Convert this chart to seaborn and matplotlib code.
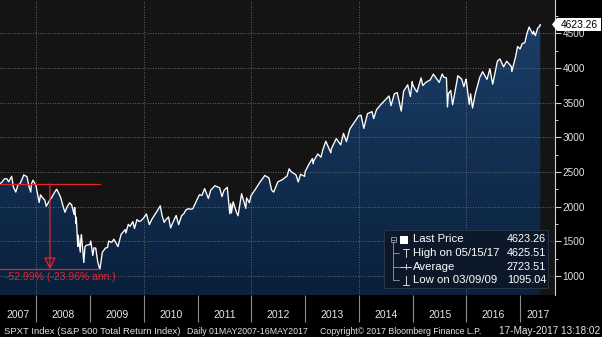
import numpy as np
import pandas as pd
import matplotlib
matplotlib.use("Agg")
import matplotlib.pyplot as plt
import matplotlib.dates as mdates
from matplotlib.colors import LinearSegmentedColormap
from matplotlib.patches import Polygon, Rectangle
from matplotlib.lines import Line2D
from matplotlib.transforms import Affine2D
import seaborn as sns

# ---------------- data ----------------
dates = [
    "2007-05-01", "2007-05-15", "2007-05-31", "2007-06-15", "2007-06-29", "2007-07-19", "2007-07-31",
    "2007-08-16", "2007-08-31", "2007-09-14", "2007-09-28", "2007-10-09", "2007-10-31", "2007-11-15",
    "2007-11-26", "2007-11-30", "2007-12-11", "2007-12-31",
    "2008-01-22", "2008-01-31", "2008-02-15", "2008-02-29", "2008-03-10", "2008-03-31", "2008-04-15",
    "2008-04-30", "2008-05-19", "2008-05-30", "2008-06-16", "2008-06-30", "2008-07-15", "2008-07-31",
    "2008-08-15", "2008-08-29", "2008-09-15", "2008-09-19", "2008-09-29", "2008-09-30", "2008-10-10",
    "2008-10-13", "2008-10-27", "2008-10-31", "2008-11-04", "2008-11-20", "2008-11-28", "2008-12-08",
    "2008-12-31",
    "2009-01-06", "2009-01-20", "2009-01-28", "2009-02-09", "2009-02-23", "2009-03-09", "2009-03-26",
    "2009-04-17", "2009-04-30", "2009-05-08", "2009-05-29", "2009-06-12", "2009-07-10", "2009-07-31",
    "2009-08-28", "2009-09-02", "2009-09-18", "2009-09-30", "2009-10-19", "2009-10-30", "2009-11-16",
    "2009-11-30", "2009-12-15", "2009-12-31",
    "2010-01-19", "2010-02-08", "2010-02-26", "2010-03-31", "2010-04-23", "2010-05-06", "2010-05-20",
    "2010-05-28", "2010-06-18", "2010-07-02", "2010-07-30", "2010-08-09", "2010-08-26", "2010-09-15",
    "2010-09-30", "2010-10-15", "2010-10-29", "2010-11-16", "2010-11-30", "2010-12-31",
    "2011-01-14", "2011-01-31", "2011-02-18", "2011-03-16", "2011-03-31", "2011-04-29", "2011-05-31",
    "2011-06-16", "2011-06-30", "2011-07-22", "2011-08-08", "2011-08-15", "2011-08-19", "2011-08-31",
    "2011-09-22", "2011-10-03", "2011-10-27", "2011-11-25", "2011-11-30", "2011-12-19", "2011-12-30",
    "2012-01-31", "2012-02-29", "2012-04-02", "2012-04-30", "2012-05-18", "2012-06-01", "2012-06-29",
    "2012-07-31", "2012-08-31", "2012-09-14", "2012-09-28", "2012-10-31", "2012-11-15", "2012-11-30",
    "2012-12-28", "2012-12-31",
    "2013-01-31", "2013-02-19", "2013-02-25", "2013-02-28", "2013-03-28", "2013-04-18", "2013-04-30",
    "2013-05-21", "2013-06-24", "2013-06-28", "2013-07-31", "2013-08-30", "2013-09-18", "2013-10-08",
    "2013-10-31", "2013-11-29", "2013-12-31",
    "2014-01-15", "2014-02-03", "2014-02-28", "2014-03-31", "2014-04-11", "2014-04-30", "2014-05-30",
    "2014-06-30", "2014-07-24", "2014-08-07", "2014-08-29", "2014-09-18", "2014-10-15", "2014-10-31",
    "2014-11-28", "2014-12-16", "2014-12-29", "2014-12-31",
    "2015-01-16", "2015-01-30", "2015-02-27", "2015-03-10", "2015-03-31", "2015-04-30", "2015-05-21",
    "2015-06-30", "2015-07-20", "2015-07-31", "2015-08-18", "2015-08-25", "2015-08-31", "2015-09-16",
    "2015-09-29", "2015-10-30", "2015-11-03", "2015-11-30", "2015-12-14", "2015-12-29", "2015-12-31",
    "2016-01-20", "2016-01-29", "2016-02-11", "2016-02-29", "2016-03-31", "2016-04-20", "2016-05-19",
    "2016-06-08", "2016-06-27", "2016-07-29", "2016-08-15", "2016-09-09", "2016-09-30", "2016-10-31",
    "2016-11-04", "2016-11-30", "2016-12-13", "2016-12-30",
    "2017-01-13", "2017-01-31", "2017-02-15", "2017-03-01", "2017-03-27", "2017-03-31", "2017-04-13",
    "2017-04-28", "2017-05-12", "2017-05-15", "2017-05-16",
]
values = [
    2329.40, 2355, 2400, 2405, 2358, 2437, 2283,
    2210, 2315, 2330, 2398, 2457, 2433, 2280,
    2210, 2327, 2382, 2305,
    2060, 2170, 2125, 2095, 2005, 2085, 2130,
    2186, 2252, 2210, 2132, 2022, 1918, 2003,
    2053, 2030, 1889, 1987, 1752, 1847, 1425,
    1590, 1345, 1537, 1596, 1194, 1423, 1444,
    1452,
    1505, 1296, 1407, 1401, 1198, 1095.04, 1343,
    1405, 1410, 1503, 1486, 1531, 1424, 1600,
    1670, 1620, 1745, 1717, 1784, 1685, 1815,
    1785, 1800, 1836,
    1895, 1741, 1822, 1931, 2012, 1866, 1772,
    1803, 1852, 1694, 1830, 1873, 1740, 1870,
    1898, 1955, 1970, 1963, 1970, 2112,
    2172, 2162, 2260, 2117, 2235, 2302, 2272,
    2144, 2236, 2279, 1898, 2043, 1908, 2070,
    1920, 1868, 2187, 1975, 2126, 2056, 2157,
    2258, 2353, 2450, 2414, 2238, 2210, 2357,
    2390, 2442, 2546, 2504, 2457, 2356, 2467,
    2437, 2502,
    2630, 2693, 2619, 2662, 2760, 2713, 2815,
    2943, 2776, 2836, 2981, 2891, 3057, 2938,
    3121, 3212, 3312,
    3318, 3129, 3342, 3370, 3270, 3397, 3474,
    3542, 3596, 3456, 3627, 3645, 3378, 3664,
    3758, 3588, 3803, 3765,
    3697, 3652, 3857, 3746, 3792, 3828, 3912,
    3791, 3913, 3868, 3857, 3437, 3629, 3675,
    3470, 3832, 3888, 3838, 3730, 3837, 3817,
    3475, 3628, 3423, 3620, 3864, 3946, 3835,
    3987, 3765, 4098, 4130, 4017, 4097, 4023,
    3948, 4169, 4310, 4274,
    4350, 4364, 4500, 4590, 4487, 4530, 4466,
    4573, 4600, 4625.51, 4623.26,
]

year_labels = ["2007", "2008", "2009", "2010", "2011", "2012", "2013", "2014", "2015", "2016", "2017"]
year_starts = ["2008-01-01", "2009-01-01", "2010-01-01", "2011-01-01", "2012-01-01",
               "2013-01-01", "2014-01-01", "2015-01-01", "2016-01-01", "2017-01-01"]
grid_dates = ["2008-01-01", "2010-01-01", "2012-01-01", "2014-01-01", "2016-01-01"]
y_major = [1000, 1500, 2000, 2500, 3000, 3500, 4000, 4500]
y_minor = [1250, 1750, 2250, 2750, 3250, 3750, 4250, 4750]
legend_names = ["Last Price", "High on 05/15/17", "Average", "Low on 03/09/09"]
legend_values = ["4623.26", "4625.51", "2723.51", "1095.04"]
last_label = "4623.26"
drawdown_label = "-52.99% (-23.96% ann.)"
footer_parts = ["SPXT Index (S&P 500 Total Return Index)", "Daily 01MAY2007-16MAY2017",
                "Copyright\u00a9 2017 Bloomberg Finance L.P.", "17-May-2017 13:18:02"]

# ---------------- figure ----------------
W, H = 602, 337
sns.set_theme(style="dark")
plt.rcParams["font.family"] = ["Liberation Sans", "DejaVu Sans"]

df = pd.DataFrame({"date": pd.to_datetime(dates), "value": values})

fig = plt.figure(figsize=(W / 100, H / 100), dpi=100, facecolor="black")
ax = fig.add_axes([0, 42 / H, 555 / W, 295 / H])
ax.set_facecolor("#141414")
pix = Affine2D().scale(1 / W, -1 / H).translate(0, 1) + fig.transFigure

x0 = pd.Timestamp("2007-05-01")
x1 = pd.Timestamp("2017-08-24")
y0, y1 = 726, 4980

# gradient area fill
cmap = LinearSegmentedColormap.from_list("navy", ["#0a203c", "#1c416b"])
poly = ax.fill_between(df["date"], df["value"], y0, facecolor="none", linewidth=0)
grad = np.linspace(0, 1, 256).reshape(-1, 1)
im = ax.imshow(grad, extent=[mdates.date2num(x0), mdates.date2num(x1), y0, y1],
               origin="lower", aspect="auto", cmap=cmap, zorder=1, interpolation="bilinear")
im.set_clip_path(poly.get_paths()[0], transform=ax.transData)

# dotted grid
for v in y_major:
    ax.axhline(v, color="#7c7c7c", lw=0.6, ls=(0, (1, 2)), zorder=3)
for d in grid_dates:
    ax.axvline(pd.Timestamp(d), color="#7c7c7c", lw=0.6, ls=(0, (1, 2)), zorder=3)

# price line
sns.lineplot(data=df, x="date", y="value", color="white", linewidth=0.95, ax=ax, zorder=5)
ax.set_xlabel("")
ax.set_ylabel("")

# drawdown annotation
red = "#e8232b"
d_start = mdates.date2num(df["date"].iloc[0])
v_start = df["value"].iloc[0]
i_low = df["value"].idxmin()
d_low = mdates.date2num(df["date"][i_low])
v_low = df["value"][i_low]
d_mid = (d_start + d_low) / 2
ax.plot([d_start, d_low], [v_start, v_start], color=red, lw=0.9, zorder=6)
ax.plot([d_start, d_low], [v_low, v_low], color=red, lw=0.9, zorder=6)
ax.annotate("", xy=(d_mid, v_low), xytext=(d_mid, v_start),
            arrowprops=dict(arrowstyle="-|>,head_length=0.6,head_width=0.3",
                            edgecolor=red, facecolor="none", lw=0.9, shrinkA=0, shrinkB=0),
            zorder=6)

# axes limits / ticks
ax.set_xlim(x0, x1)
ax.set_ylim(y0, y1)
ax.yaxis.tick_right()
ax.set_yticks(y_major)
ax.set_yticks(y_minor, minor=True)
ax.set_yticklabels([str(v) for v in y_major])
ax.tick_params(axis="y", which="major", right=True, left=False, length=4, width=0.8,
               color="#d0d0d0", labelcolor="#e2e2e2", labelsize=7.2, pad=1.5, direction="out")
ax.tick_params(axis="y", which="minor", right=True, left=False, length=2.5, width=0.7,
               color="#d0d0d0", direction="out")
for s in ["top", "left", "bottom"]:
    ax.spines[s].set_visible(False)
ax.spines["right"].set_color("#d0d0d0")
ax.spines["right"].set_linewidth(0.8)

starts = [pd.Timestamp(s) for s in year_starts]
edges = [x0] + starts + [x1]
centers = [edges[i] + (edges[i + 1] - edges[i]) / 2 for i in range(len(edges) - 1)]
ax.set_xticks(mdates.date2num(centers))
ax.set_xticklabels(year_labels)
ax.set_xticks(mdates.date2num(starts), minor=True)
ax.tick_params(axis="x", which="major", bottom=True, length=0, pad=14.4, labelsize=7.5,
               labelcolor="#e6e6e6")
ax.tick_params(axis="x", which="minor", bottom=True, length=19.4, width=0.8,
               color="#8c8c8c", direction="out")
for lbl in ax.get_xticklabels():
    lbl.set_va("center")

# ---------------- overlay texts (pixel coords) ----------------
texts_to_fit = []
t = fig.text(5, 276.5, drawdown_label, transform=pix, color=red, fontsize=6.5,
             ha="left", va="center", zorder=10)
texts_to_fit.append((t, 110))

# legend box
fig.add_artist(Rectangle((384, 230), 164, 58, transform=pix, facecolor="#0c1828",
                         edgecolor="#2e3b48", lw=0.6, alpha=0.93, zorder=8))
rows = [239.5, 253.0, 266.5, 280.0]
gray = "#9aa0a6"
fig.add_artist(Rectangle((390.5, 237), 5, 5, transform=pix, facecolor="none",
                         edgecolor=gray, lw=0.6, zorder=9))
fig.add_artist(Line2D([391.5, 394.5], [239.5, 239.5], transform=pix, color=gray, lw=0.6, zorder=9))
fig.add_artist(Line2D([393, 393], [242, 280], transform=pix, color=gray, lw=0.6, zorder=9))
for ry in rows[1:]:
    fig.add_artist(Line2D([393, 399], [ry, ry], transform=pix, color=gray, lw=0.6, zorder=9))
fig.add_artist(Rectangle((400, 235.5), 8, 8, transform=pix, facecolor="white",
                         edgecolor="none", zorder=9))
ic = "#d8d8d8"
fig.add_artist(Line2D([403, 409], [248.5, 248.5], transform=pix, color=ic, lw=0.7, zorder=9))
fig.add_artist(Line2D([406, 406], [248.5, 257], transform=pix, color=ic, lw=0.7, zorder=9))
fig.add_artist(Line2D([400, 411], [266.5, 266.5], transform=pix, color=ic, lw=0.7, zorder=9))
fig.add_artist(Line2D([405.5, 405.5], [264, 269], transform=pix, color=ic, lw=0.7, zorder=9))
fig.add_artist(Line2D([406, 406], [276, 284.5], transform=pix, color=ic, lw=0.7, zorder=9))
fig.add_artist(Line2D([403, 409], [284.5, 284.5], transform=pix, color=ic, lw=0.7, zorder=9))
for ry, name, val in zip(rows, legend_names, legend_values):
    fig.text(413, ry, name, transform=pix, color="white", fontsize=8.2, ha="left",
             va="center", zorder=10)
    fig.text(546, ry, val, transform=pix, color="white", fontsize=7.8, ha="right",
             va="center", zorder=10)

# last price tag
fig.add_artist(Polygon([(552, 24.5), (557, 18), (601, 18), (601, 31), (557, 31)],
                       closed=True, transform=pix, facecolor="white", edgecolor="none", zorder=10))
fig.text(579.5, 24.8, last_label, transform=pix, color="black", fontsize=7.4,
         ha="center", va="center", zorder=11)

# footer
footer_pos = [(4, 176), (187, 120), (320.5, 161.5), (499, 100)]
for (fx, fw), txt in zip(footer_pos, footer_parts):
    t = fig.text(fx, 331, txt, transform=pix, color="#e4e4e4", fontsize=6.5,
                 ha="left", va="center", zorder=10)
    texts_to_fit.append((t, fw))

fig.canvas.draw()
r = fig.canvas.get_renderer()
for t, wpx in texts_to_fit:
    bb = t.get_window_extent(renderer=r)
    t.set_fontsize(t.get_fontsize() * wpx / bb.width)

fig.savefig("out.png", dpi=100, facecolor=fig.get_facecolor())
